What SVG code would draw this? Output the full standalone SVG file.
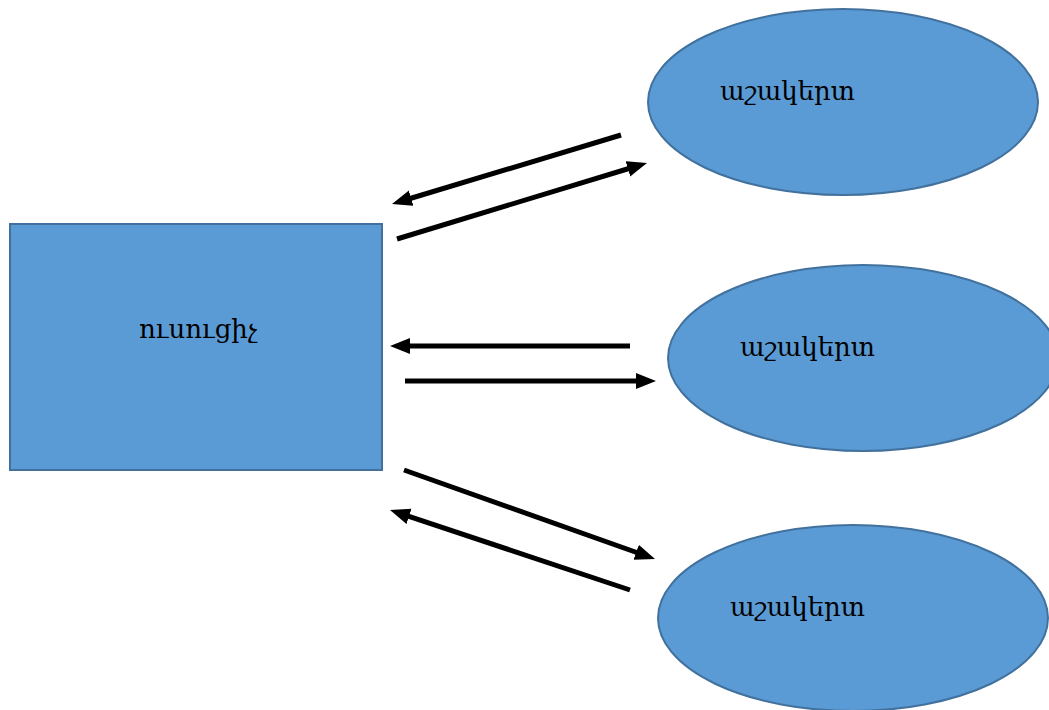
<svg xmlns="http://www.w3.org/2000/svg" width="1049" height="710" viewBox="0 0 1049 710">
<style>
.shape{fill:#5B9BD5;stroke:#41719C;stroke-width:2}
.lbl{font-family:"DejaVu Serif","Noto Serif",serif;font-size:26px;fill:#000}
.conn{stroke:#000;stroke-width:5;fill:none;marker-end:url(#ah)}
</style>
<defs>
<marker id="ah" markerUnits="userSpaceOnUse" markerWidth="22" markerHeight="18" refX="8" refY="8" orient="auto">
<path d="M0,0 L20,8 L0,16 Z" fill="#000"/>
</marker>
</defs>
<rect width="1049" height="710" fill="#fff"/>
<g id="teacher">
<rect class="shape" x="10" y="224" width="372" height="246"/>
<text class="lbl" x="139" y="338">ուսուցիչ</text>
</g>
<g id="student1">
<ellipse class="shape" cx="843" cy="102" rx="195" ry="93"/>
<text class="lbl" x="720" y="100">աշակերտ</text>
</g>
<g id="student2">
<ellipse class="shape" cx="863" cy="358" rx="195" ry="93"/>
<text class="lbl" x="740" y="356">աշակերտ</text>
</g>
<g id="student3">
<ellipse class="shape" cx="853" cy="618" rx="195" ry="93"/>
<text class="lbl" x="730" y="616">աշակերտ</text>
</g>
<g id="connectors">
<line class="conn" x1="621" y1="135" x2="403.5" y2="200.5"/>
<line class="conn" x1="397" y1="239" x2="635.5" y2="166.5"/>
<line class="conn" x1="630" y1="346" x2="402" y2="346"/>
<line class="conn" x1="405" y1="381" x2="644" y2="381"/>
<line class="conn" x1="404" y1="470" x2="643.7" y2="555"/>
<line class="conn" x1="630" y1="590" x2="401.4" y2="513.8"/>
</g>
</svg>
